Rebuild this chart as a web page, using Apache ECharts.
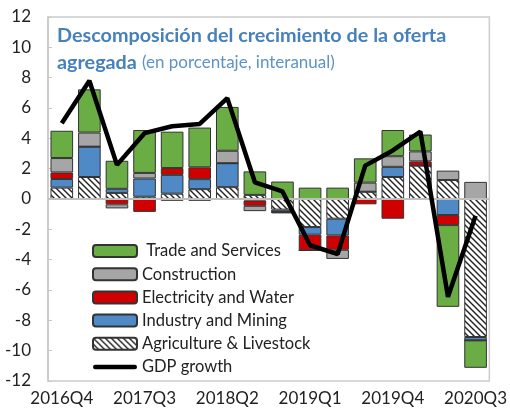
<!DOCTYPE html>
<html>
<head>
<meta charset="utf-8">
<script src="https://cdn.jsdelivr.net/npm/echarts@6/dist/echarts.min.js"></script>
<style>
  html, body { margin: 0; padding: 0; background: #fff; }
  #main { width: 510px; height: 411px; }
</style>
</head>
<body>
<div id="main"></div>
<script>
var quarters = ['2016Q4', '2017Q1', '2017Q2', '2017Q3', '2017Q4', '2018Q1', '2018Q2', '2018Q3',
  '2018Q4', '2019Q1', '2019Q2', '2019Q3', '2019Q4', '2020Q1', '2020Q2', '2020Q3'];

var agriculture = [0.75, 1.45, 0.4, 0.15, 0.35, 0.65, 0.78, 0.27, -0.7, -1.85, -1.3, 0.48, 1.45, 2.2, 1.25, -9.1];
var industry = [0.57, 2.0, 0.27, 1.2, 1.24, 0.66, 1.58, -0.1, -0.15, -0.5, -1.1, 0, 0.67, 0, -1.06, -0.22];
var electricity = [0.43, 0, -0.35, -0.85, 0.45, 0.78, 0, -0.35, 0, -1.04, -0.95, -0.35, -1.3, 0.28, -0.66, 0];
var construction = [0.95, 0.93, -0.27, 0.37, -0.12, -0.12, 0.82, -0.35, -0.1, 0, -0.6, 0.6, 0.7, 0.66, 0.62, 1.13];
var trade = [1.8, 2.85, 1.85, 2.83, 2.4, 2.62, 2.89, 1.55, 1.15, 0.75, 0.75, 1.6, 1.73, 1.11, -5.39, -1.81];
var gdp = [5.0, 7.8, 2.25, 4.34, 4.8, 4.95, 6.65, 1.1, 0.5, -3.05, -3.63, 2.2, 3.2, 4.45, -6.45, -1.1];

// hatched fill for agriculture
var hatch = document.createElement('canvas');
hatch.width = 6;
hatch.height = 6;
var hc = hatch.getContext('2d');
hc.fillStyle = '#fff';
hc.fillRect(0, 0, 6, 6);
hc.strokeStyle = '#222';
hc.lineWidth = 1.4;
hc.beginPath();
hc.moveTo(-1, -1); hc.lineTo(7, 7);
hc.moveTo(-1, 5); hc.lineTo(1, 7);
hc.moveTo(5, -1); hc.lineTo(7, 1);
hc.stroke();

var font = 'Lato, "Open Sans", sans-serif';

function barSeries(name, data, color) {
  return {
    name: name,
    type: 'bar',
    stack: 'total',
    barWidth: '82%',
    data: data,
    itemStyle: { color: color, borderColor: '#333', borderWidth: 1 }
  };
}

var myChart = echarts.init(document.getElementById('main'));

var series = [
  barSeries('Agriculture & Livestock', agriculture, { image: hatch, repeat: 'repeat' }),
  barSeries('Industry and Mining', industry, '#4f89c6'),
  barSeries('Electricity and Water', electricity, '#d00000'),
  barSeries('Construction', construction, '#a6a6a6'),
  barSeries('Trade and Services', trade, '#6aad44'),
  {
    name: 'GDP growth',
    type: 'line',
    data: gdp,
    symbol: 'none',
    z: 5,
    lineStyle: { color: '#000', width: 4.5 },
    itemStyle: { color: '#000' }
  }
];
series[0].markLine = {
  silent: true,
  symbol: 'none',
  label: { show: false },
  lineStyle: { color: '#bfbfbf', width: 2, type: 'solid' },
  data: [{ yAxis: 0 }]
};

myChart.setOption({
  animation: false,
  title: {
    text: '{b|Descomposición del crecimiento de la oferta}\n{b|agregada} {n|(en porcentaje, interanual)}',
    left: 52,
    top: 17,
    textStyle: {
      rich: {
        b: { fontFamily: font, fontWeight: 'bold', fontSize: 19.8, color: '#4681bb', lineHeight: 27 },
        n: { fontFamily: font, fontWeight: 'normal', fontSize: 17, color: '#5d93c6', lineHeight: 27 }
      }
    }
  },
  legend: {
    orient: 'vertical',
    left: 87,
    top: 237,
    itemWidth: 44,
    itemHeight: 12,
    itemGap: 5.2,
    data: ['Trade and Services', 'Construction', 'Electricity and Water', 'Industry and Mining',
      'Agriculture & Livestock',
      { name: 'GDP growth', icon: 'path://M2,0L42,0A2.25,2.25,0,0,1,42,4.5L2,4.5A2.25,2.25,0,0,1,2,0Z' }],
    formatter: function (name) {
      return name === 'Trade and Services' ? ' ' + name : name;
    },
    textStyle: { fontFamily: font, fontSize: 16.5, color: '#222', lineHeight: 18 }
  },
  grid: {
    left: 48,
    right: 20,
    top: 17,
    bottom: 30,
    show: true,
    borderColor: '#cccccc',
    borderWidth: 1.5
  },
  xAxis: {
    type: 'category',
    data: quarters,
    axisLine: { show: false },
    axisTick: { show: false },
    axisLabel: { interval: 2, margin: 9, fontFamily: font, fontSize: 17, color: '#222' }
  },
  yAxis: {
    type: 'value',
    min: -12,
    max: 12,
    interval: 2,
    axisLine: { show: true, lineStyle: { color: '#c8c8c8', width: 1.5 } },
    axisTick: { show: true, inside: true, length: 4, lineStyle: { color: '#c8c8c8' } },
    splitLine: { show: false },
    axisLabel: { margin: 17, fontFamily: font, fontSize: 17, color: '#222' }
  },
  series: series
});
</script>
</body>
</html>
